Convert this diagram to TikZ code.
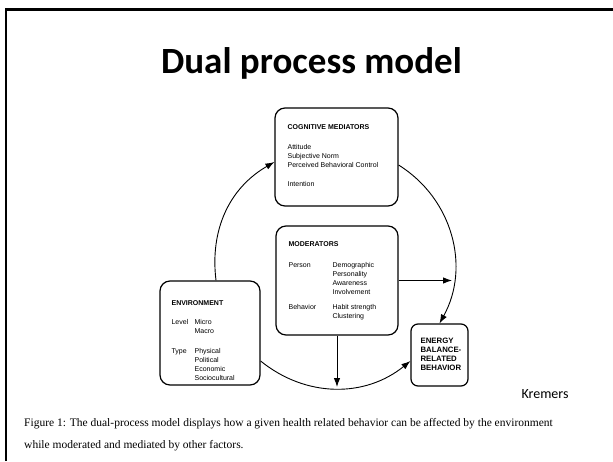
\documentclass[tikz,border=0pt]{standalone}
\usepackage{fontspec}
\setmainfont{Liberation Serif}
\setsansfont{Liberation Sans}
\newfontfamily\slidefont{Carlito}
\usetikzlibrary{arrows.meta,positioning}
\begin{document}
\begin{tikzpicture}[x=1pt,y=1pt,flow/.style={-{Latex[length=9pt,width=6.5pt]},line width=0.9pt}]
\useasboundingbox (0,0) rectangle (613,-461);
\draw[line width=2.4pt] (6.2,-461) |- (613,-9.5);
\node[font=\slidefont\bfseries\fontsize{37}{40}\selectfont, anchor=base] (title) at (311.5,-73) {Dual process model};
\tikzstyle{every node} = [draw, line width=1.2pt, rounded corners=10pt, inner sep=0pt]
\node[minimum width=123pt, minimum height=98pt] (cog) at (336.5,-157) {};
\node[minimum width=122pt, minimum height=109pt] (mod) at (337,-280.5) {};
\node[minimum width=100pt, minimum height=104pt] (env) at (210,-333) {};
\node[minimum width=57pt, minimum height=62pt, rounded corners=7pt] (nrg) at (439.5,-355) {};
\tikzstyle{every node} = [font=\sffamily\fontsize{7}{9}\selectfont, inner sep=0pt, align=left]
\node[below right=17.5pt and 13pt of cog.north west] (cogtext) {\textbf{COGNITIVE MEDIATORS}\\[11pt]
  Attitude\\ Subjective Norm\\ Perceived Behavioral Control\\[10pt] Intention};
\node[below right=14.2pt and 13pt of mod.north west] (modtext) {\begin{tabular}{@{}p{44pt}@{}l@{}}
  \multicolumn{2}{@{}l@{}}{\textbf{MODERATORS}}\\[12pt]
  Person & Demographic\\ & Personality\\ & Awareness\\ & Involvement\\[6pt]
  Behavior & Habit strength\\ & Clustering
  \end{tabular}};
\node[below right=18.2pt and 12pt of env.north west] (envtext) {\begin{tabular}{@{}p{23pt}@{}l@{}}
  \multicolumn{2}{@{}l@{}}{\textbf{ENVIRONMENT}}\\[10pt]
  Level & Micro\\ & Macro\\[11pt]
  Type & Physical\\ & Political\\ & Economic\\ & Sociocultural
  \end{tabular}};
\node[font=\sffamily\bfseries\fontsize{7.8}{9.3}\selectfont, below right=14pt and 10pt of nrg.north west] (nrgtext) {ENERGY\\ BALANCE-\\ RELATED\\ BEHAVIOR};
\node[font=\slidefont\fontsize{14}{16}\selectfont] (source) at (545,-394) {Kremers};
\node[font=\rmfamily\fontsize{11.5}{22}\selectfont, anchor=north west] (caption) at (24,-418) {Figure 1: The dual-process model displays how a given health related behavior can be affected by the environment\\ while moderated and mediated by other factors.};
\tikzstyle{every node} = []
\coordinate (rim) at (452,-281);
\coordinate (low) at (337,-387);
\draw[flow] ([xshift=6pt]env.north) to[out=97, in=210] ([yshift=-5pt]cog.west);
\draw[flow] ([yshift=-8pt]cog.east) to[out=-32, in=61] (nrg.north);
\draw[flow] ([yshift=-28pt]env.east) to[out=-39, in=219] ([yshift=-6pt]nrg.west);
\draw[flow] (mod.east) -- (mod.east -| rim);
\draw[flow] (mod.south) -- (mod.south |- low);
\end{tikzpicture}
\end{document}
